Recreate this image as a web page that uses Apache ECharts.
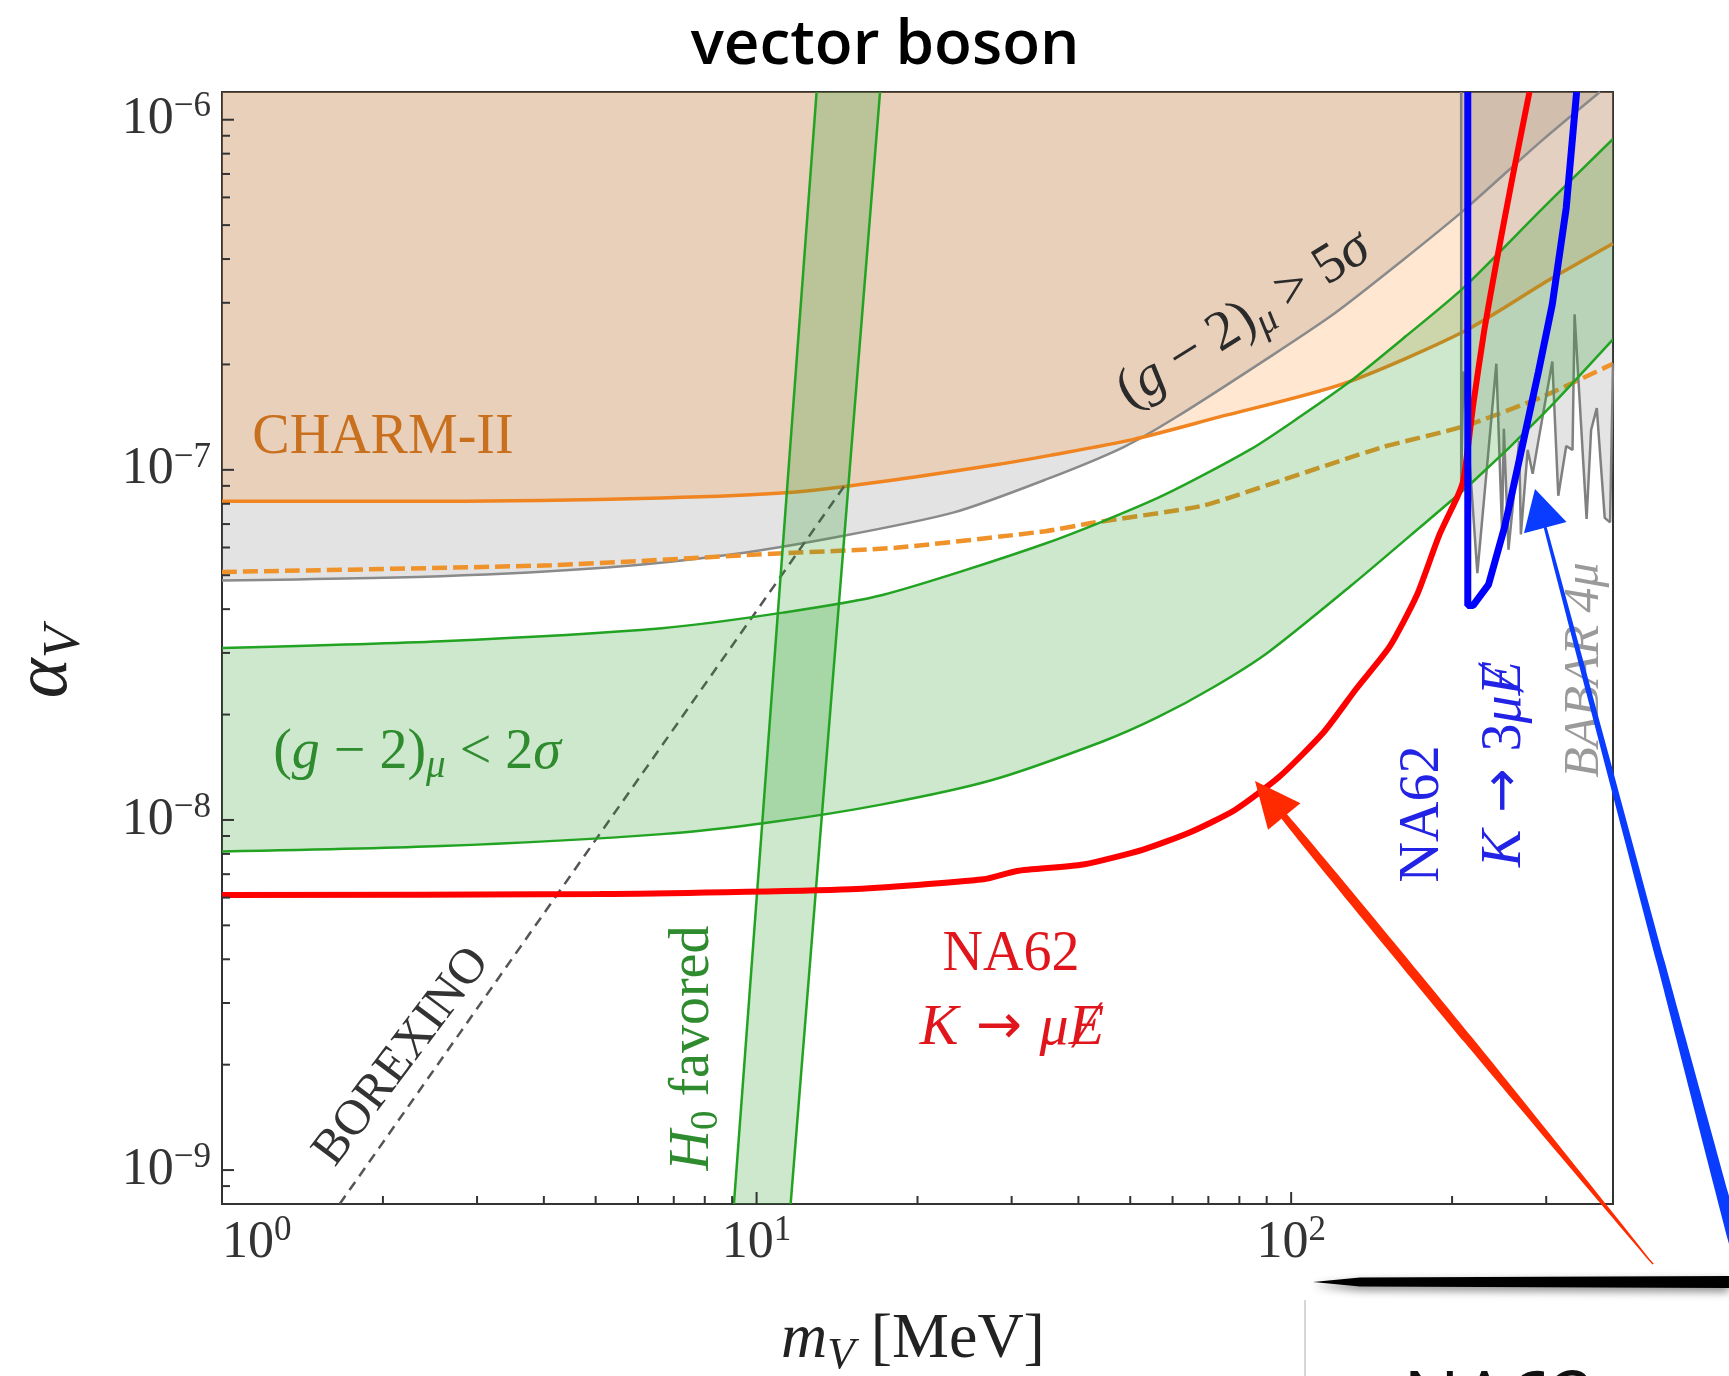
<!DOCTYPE html>
<html>
<head>
<meta charset="utf-8">
<script src="https://cdn.jsdelivr.net/npm/echarts@6/dist/echarts.min.js"></script>
<style>
  html, body { margin: 0; padding: 0; background: #ffffff; }
  #chart { width: 1729px; height: 1376px; }
</style>
</head>
<body>
<div id="chart"></div>
<script>
// ---- axis ranges (MeV, alpha_V) ----
const X_MIN = 1, X_MAX = 400;
const Y_MIN = 8e-10, Y_MAX = 1.2e-6;

// ---- tick positions ----
const xMajorTicks = [1, 10, 100];
const xMinorTicks = [2, 3, 4, 5, 6, 7, 8, 9, 20, 30, 40, 50, 60, 70, 80, 90, 200, 300];
const yMajorTicks = [1e-9, 1e-8, 1e-7, 1e-6];
const yMinorTicks = [8e-10, 9e-10,
  2e-9, 3e-9, 4e-9, 5e-9, 6e-9, 7e-9, 8e-9, 9e-9,
  2e-8, 3e-8, 4e-8, 5e-8, 6e-8, 7e-8, 8e-8, 9e-8,
  2e-7, 3e-7, 4e-7, 5e-7, 6e-7, 7e-7, 8e-7, 9e-7];

// ---- CHARM-II bound (solid) ----
const charmMass  = [1, 2.57, 6.65, 11.5, 17.2, 27.6, 35.4, 50.5, 71.4, 125, 210, 304, 400];
const charmAlpha = [8.13e-8, 8.13e-8, 8.31e-8, 8.61e-8, 9.26e-8, 1.03e-7, 1.10e-7, 1.22e-7, 1.40e-7, 1.76e-7, 2.48e-7, 3.49e-7, 4.43e-7];

// ---- CHARM-II dashed curve ----
const charmDashMass  = [1, 4.13, 11.2, 18.2, 34.7, 42.3, 68.1, 90.5, 148, 210, 296, 400];
const charmDashAlpha = [5.11e-8, 5.34e-8, 5.78e-8, 5.99e-8, 6.68e-8, 7.05e-8, 7.89e-8, 9.06e-8, 1.16e-7, 1.33e-7, 1.62e-7, 2.01e-7];

// ---- (g-2)_mu > 5 sigma exclusion ----
const g2ExclMass  = [1, 2.57, 5.25, 9.03, 14.3, 23.4, 34.8, 48.5, 61.2, 92, 121, 161, 210, 294, 378];
const g2ExclAlpha = [4.83e-8, 4.97e-8, 5.26e-8, 5.74e-8, 6.45e-8, 7.56e-8, 9.39e-8, 1.16e-7, 1.42e-7, 2.12e-7, 2.81e-7, 3.95e-7, 5.5e-7, 8.7e-7, 1.2e-6];

// ---- (g-2)_mu < 2 sigma band ----
const g2UpMass  = [1, 2.57, 6.65, 11.2, 17.2, 34.8, 56.3, 83.6, 104, 129, 164, 210, 297, 400];
const g2UpAlpha = [3.10e-8, 3.24e-8, 3.53e-8, 3.91e-8, 4.39e-8, 6.17e-8, 8.31e-8, 1.14e-7, 1.42e-7, 1.79e-7, 2.41e-7, 3.31e-7, 5.63e-7, 8.81e-7];
const g2LoMass  = [1, 2.57, 6.65, 10.7, 17.2, 27.6, 44.4, 56.3, 71.4, 90.5, 129, 168, 219, 297, 400];
const g2LoAlpha = [8.12e-9, 8.42e-9, 9.11e-9, 9.87e-9, 1.108e-8, 1.30e-8, 1.675e-8, 1.965e-8, 2.39e-8, 3.01e-8, 4.65e-8, 6.54e-8, 9.26e-8, 1.45e-7, 2.36e-7];

// ---- H0 favored strip ----
const h0LeftMass  = [9.07, 12.95];
const h0RightMass = [11.58, 17.02];
const h0Alpha     = [8e-10, 1.2e-6];

// ---- BOREXINO ----
const borexinoMass  = [1.66, 14.6];
const borexinoAlpha = [8e-10, 9.0e-8];

// ---- BABAR 4mu ----
const babarMass  = [208, 208, 210, 223, 242, 248, 250, 255, 267, 269, 277, 283, 290, 308, 316, 327, 336, 339, 357, 364, 373, 386, 395, 400];
const babarAlpha = [1.2e-6, 9.06e-8, 1.91e-7, 5.07e-8, 2.01e-7, 6.78e-8, 1.31e-7, 5.91e-8, 1.21e-7, 6.54e-8, 1.14e-7, 9.74e-8, 1.21e-7, 2.04e-7, 8.43e-8, 1.17e-7, 1.14e-7, 2.78e-7, 7.24e-8, 1.30e-7, 1.50e-7, 7.29e-8, 7.08e-8, 2.01e-7];

// ---- NA62 K -> mu + missing energy ----
const na62MuMass  = [1, 5.09, 15.0, 26.6, 30.7, 40.8, 52.9, 64.9, 78.5, 95.0, 114.8, 132.4, 152.7, 171.9, 189.1, 205.0, 209.9, 214.9, 219.1, 229.7, 242.0, 259.9, 279.1];
const na62MuAlpha = [6.10e-9, 6.14e-9, 6.34e-9, 6.77e-9, 7.15e-9, 7.46e-9, 8.23e-9, 9.24e-9, 1.068e-8, 1.328e-8, 1.774e-8, 2.37e-8, 3.12e-8, 4.39e-8, 6.49e-8, 8.43e-8, 9.33e-8, 1.21e-7, 1.537e-7, 2.50e-7, 3.91e-7, 6.94e-7, 1.2e-6];

// ---- NA62 K -> 3mu + missing energy ----
const na623MuMass  = [214, 214, 219, 234, 251, 271, 290, 308, 327, 342];
const na623MuAlpha = [1.2e-6, 4.1e-8, 4.1e-8, 4.7e-8, 6.9e-8, 1.18e-7, 1.9e-7, 2.97e-7, 5.6e-7, 1.2e-6];

// ---------------------------------------------------------------
const serif = "'Liberation Serif', 'DejaVu Serif', serif";
const sans = "'DejaVu Sans', sans-serif";
const zip = (xs, ys) => xs.map((x, i) => [x, ys[i]]);

function powLabel(v) {
  const l = Math.log10(v);
  const e = Math.round(l);
  if (Math.abs(l - e) > 1e-6) return '';
  return '{b|10}{s|' + (e < 0 ? '\u2212' + (-e) : String(e)) + '}';
}
const tickRich = {
  b: { fontFamily: serif, fontSize: 52, color: '#333', lineHeight: 60 },
  s: { fontFamily: serif, fontSize: 35, color: '#333', verticalAlign: 'top', lineHeight: 37 }
};

function lineSeries(name, xs, ys, color, width, extra) {
  return Object.assign({
    name, type: 'line', data: zip(xs, ys), symbol: 'none', silent: true,
    lineStyle: { color, width }, z: 3
  }, extra || {});
}
function fillSeries(name, xs, ys, color, z, smooth) {
  return {
    name, type: 'line', data: zip(xs, ys), symbol: 'none', silent: true, smooth: smooth || false,
    lineStyle: { width: 0, opacity: 0 },
    areaStyle: { color, origin: 'end', opacity: 1 }, z: z
  };
}

// polygon between two edges drawn through the grid's scales
function bandSeries(name, upM, upA, loM, loA, fill, stroke, z, smooth) {
  return {
    name, type: 'custom', coordinateSystem: 'cartesian2d', clip: true, silent: true, z: z,
    data: zip(upM, upA),
    encode: { x: 0, y: 1 },
    renderItem: function (params, api) {
      if (params.dataIndex !== 0) return null;
      const upper = upM.map((m, i) => api.coord([m, upA[i]]));
      const lower = loM.map((m, i) => api.coord([m, loA[i]]));
      const poly = upper.concat(lower.slice().reverse());
      return {
        type: 'group',
        children: [
          { type: 'polygon', shape: { points: poly }, style: { fill: fill, stroke: null } },
          { type: 'polyline', shape: { points: upper, smooth: smooth || 0 }, style: { fill: null, stroke: stroke, lineWidth: 2.5 } },
          { type: 'polyline', shape: { points: lower, smooth: smooth || 0 }, style: { fill: null, stroke: stroke, lineWidth: 2.5 } }
        ]
      };
    }
  };
}

const xTickData = xMajorTicks.map(v => [v, Y_MIN, 1]).concat(xMinorTicks.map(v => [v, Y_MIN, 0]));
const yTickData = yMajorTicks.map(v => [X_MIN, v, 1]).concat(yMinorTicks.map(v => [X_MIN, v, 0]));

const greenFill = 'rgba(44,160,44,0.24)';
const greenLine = '#22a322';

const series = [
  // excluded regions (fills)
  fillSeries('g2excl-fill', g2ExclMass, g2ExclAlpha, 'rgba(128,128,128,0.22)', 1, 0.25),
  fillSeries('charm-fill', charmMass, charmAlpha, 'rgba(255,127,14,0.19)', 1, 0.25),
  fillSeries('babar-fill', babarMass, babarAlpha, 'rgba(120,120,120,0.2)', 1),
  // boundary curves
  lineSeries('g2excl', g2ExclMass, g2ExclAlpha, '#8a8a8a', 2.5, { smooth: 0.25 }),
  lineSeries('charm', charmMass, charmAlpha, '#f08420', 3.5, { smooth: 0.25 }),
  lineSeries('charm-dashed', charmDashMass, charmDashAlpha, '#f0922a', 4.5, { smooth: 0.2, lineStyle: { color: '#f0922a', width: 4.5, type: [15, 6] } }),
  lineSeries('babar', babarMass, babarAlpha, '#808080', 2.5),
  lineSeries('borexino', borexinoMass, borexinoAlpha, '#555555', 2.5, { lineStyle: { color: '#555555', width: 2.5, type: [10, 7] } }),
  // green bands
  bandSeries('g2band', g2UpMass, g2UpAlpha, g2LoMass, g2LoAlpha, greenFill, greenLine, 4, 0.25),
  bandSeries('h0band', h0LeftMass, h0Alpha, h0RightMass, h0Alpha, greenFill, greenLine, 4, 0),
  // NA62 projections
  lineSeries('na62-mu', na62MuMass, na62MuAlpha, '#ff0000', 6, { z: 6, smooth: 0.2 }),
  lineSeries('na62-3mu', na623MuMass, na623MuAlpha, '#0000ff', 7, { z: 6 }),
  // ticks pointing into the frame
  {
    name: 'xticks', type: 'custom', coordinateSystem: 'cartesian2d', silent: true, z: 8,
    data: xTickData, encode: { x: 0, y: 1 },
    renderItem: function (params, api) {
      const p = api.coord([api.value(0), Y_MIN]);
      const len = api.value(2) ? 12 : 8;
      return { type: 'line', shape: { x1: p[0], y1: p[1], x2: p[0], y2: p[1] - len }, style: { stroke: '#333', lineWidth: 2 } };
    }
  },
  {
    name: 'yticks', type: 'custom', coordinateSystem: 'cartesian2d', silent: true, z: 8,
    data: yTickData, encode: { x: 0, y: 1 },
    renderItem: function (params, api) {
      const p = api.coord([X_MIN, api.value(1)]);
      const len = api.value(2) ? 12 : 8;
      return { type: 'line', shape: { x1: p[0], y1: p[1], x2: p[0] + len, y2: p[1] }, style: { stroke: '#333', lineWidth: 2 } };
    }
  }
];

// ---- text helpers ----
function richSet(size, color) {
  const sub = Math.round(size * 0.7);
  const lh = Math.round(size * 1.2);
  return {
    n: { fontFamily: serif, fontSize: size, fill: color, color: color, lineHeight: lh },
    i: { fontFamily: serif, fontSize: size, fontStyle: 'italic', fill: color, color: color, lineHeight: lh },
    ar: { fontFamily: sans, fontSize: Math.round(size * 0.95), fill: color, color: color, lineHeight: lh },
    sub: { fontFamily: serif, fontSize: sub, fontStyle: 'italic', fill: color, color: color, verticalAlign: 'bottom', lineHeight: sub },
    subn: { fontFamily: serif, fontSize: sub, fill: color, color: color, verticalAlign: 'bottom', lineHeight: sub }
  };
}
function label(text, x, y, size, color, rotDeg) {
  return {
    type: 'text', x: x, y: y, rotation: (rotDeg || 0) * Math.PI / 180, z: 100, silent: true,
    style: {
      text: text, rich: richSet(size, color), fill: color, fontFamily: serif, fontSize: size,
      align: 'center', verticalAlign: 'middle', textAlign: 'center', textVerticalAlign: 'middle'
    }
  };
}

// ---- callout arrows ----
function arrow(tip, tail, headLen, headHalf, wHead, wMid, wTail, color) {
  const dx = tail[0] - tip[0], dy = tail[1] - tip[1];
  const L = Math.hypot(dx, dy);
  const u = [dx / L, dy / L], n = [u[1], -u[0]];
  const base = [tip[0] + u[0] * headLen, tip[1] + u[1] * headLen];
  const mid = [(base[0] + tail[0]) / 2, (base[1] + tail[1]) / 2];
  const off = (p, w, s) => [p[0] + n[0] * w * s / 2, p[1] + n[1] * w * s / 2];
  const body = [off(base, wHead, 1), off(mid, wMid, 1), off(tail, wTail, 1),
                off(tail, wTail, -1), off(mid, wMid, -1), off(base, wHead, -1)];
  const head = [tip, off(base, headHalf * 2, 1), off(base, headHalf * 2, -1)];
  return [
    { type: 'polygon', z: 110, silent: true, shape: { points: body, smooth: 0.2 }, style: { fill: color } },
    { type: 'polygon', z: 110, silent: true, shape: { points: head }, style: { fill: color } }
  ];
}

const graphics = [
  // title
  { type: 'text', x: 885, y: 46, z: 100, silent: true,
    style: { text: 'vector boson', fontFamily: "'Open Sans', 'DejaVu Sans', sans-serif", fontWeight: 600, fontSize: 62,
             fill: '#000', align: 'center', verticalAlign: 'middle', textAlign: 'center', textVerticalAlign: 'middle' } },
  // axis titles
  label('{i|m}{sub|V}{n| [MeV]}', 913, 1340, 64, '#222'),
  label('{i|α}{sub|V}', 46, 662, 76, '#222', 90),
  // region labels
  label('{n|CHARM-II}', 383, 438, 56, '#c8701e'),
  label('{n|(}{i|g}{n| \u2212 2)}{sub|μ}{n| > 5}{i|σ}', 1244, 320, 56, '#2b2b2b', 32),
  label('{n|(}{i|g}{n| \u2212 2)}{sub|μ}{n| < 2}{i|σ}', 417, 753, 56, '#2e8b2e'),
  label('{n|BOREXINO}', 402, 1057, 50, '#333333', 53),
  label('{i|H}{subn|0}{n| favored}', 693, 1048, 56, '#2e8b2e', 90),
  label('{n|NA62}', 1011, 955, 56, '#e0161c'),
  label('{i|K}{ar| \u2192 }{i|μ\u0246}', 1012, 1029, 58, '#e0161c'),
  label('{n|NA62}', 1423, 814, 56, '#2323e6', 90),
  label('{i|K}{ar| \u2192 }{n|3}{i|μ\u0246}', 1505, 764, 56, '#2323e6', 90),
  label('{i|BABAR 4μ}', 1585, 670, 50, '#9a9a9a', 90),
  // slide decorations below the plot
  { type: 'line', z: 100, silent: true, shape: { x1: 1305, y1: 1300, x2: 1305, y2: 1376 }, style: { stroke: '#c8c8c8', lineWidth: 1.5 } },
  { type: 'polygon', z: 105, silent: true,
    shape: { points: [[1313, 1282], [1360, 1277.5], [1729, 1276], [1729, 1288], [1360, 1286.5]] },
    style: { fill: '#000', shadowBlur: 8, shadowColor: 'rgba(0,0,0,0.45)', shadowOffsetY: 4 } },
  { type: 'text', x: 1403, y: 1366, z: 100, silent: true,
    style: { text: 'NA62', fontFamily: "'Open Sans', 'DejaVu Sans', sans-serif", fontSize: 76, fill: '#111', align: 'left', verticalAlign: 'top', textAlign: 'left', textVerticalAlign: 'top' } }
].concat(
  arrow([1255, 781], [1653, 1264], 46, 21, 7, 9, 1.5, '#ff2a00'),
  arrow([1535, 489], [1777, 1400], 40, 22, 3, 8, 12, '#0a3cff')
);

const option = {
  animation: false,
  backgroundColor: '#ffffff',
  grid: { left: 222, right: 116, top: 92, bottom: 172, show: true, borderColor: '#333', borderWidth: 2,
          backgroundColor: 'transparent', containLabel: false, outerBoundsMode: 'none' },
  xAxis: {
    type: 'log', logBase: 10, min: X_MIN, max: X_MAX,
    axisLine: { show: false }, axisTick: { show: false }, splitLine: { show: false }, minorTick: { show: false },
    axisLabel: { formatter: powLabel, rich: tickRich, margin: 9, alignMinLabel: 'left', showMaxLabel: true }
  },
  yAxis: {
    type: 'log', logBase: 10, min: Y_MIN, max: Y_MAX,
    axisLine: { show: false }, axisTick: { show: false }, splitLine: { show: false }, minorTick: { show: false },
    axisLabel: { formatter: powLabel, rich: tickRich, margin: 11 }
  },
  series: series,
  graphic: { elements: graphics }
};

const chart = echarts.init(document.getElementById('chart'), null, { renderer: 'canvas' });
chart.setOption(option);
</script>
</body>
</html>
